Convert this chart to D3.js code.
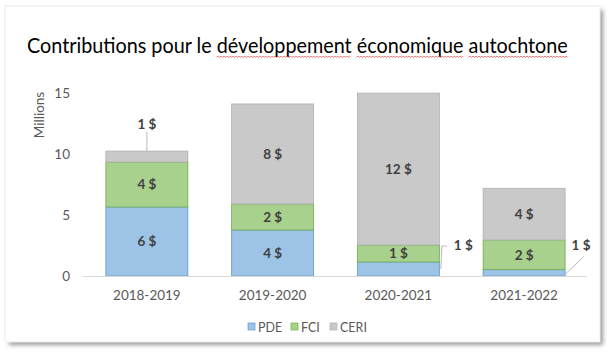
<!DOCTYPE html>
<html><head><meta charset="utf-8">
<script src="https://cdn.jsdelivr.net/npm/d3@7"></script>
<style>html,body{margin:0;padding:0;background:#fff;}svg{display:block;}</style>
</head><body>
<svg id="chart" width="608" height="352"></svg>
<script>
const categories = ["2018-2019", "2019-2020", "2020-2021", "2021-2022"];
const seriesNames = ["PDE", "FCI", "CERI"];
const PDE  = [5.66, 3.77, 1.15, 0.52];
const FCI  = [3.68, 2.13, 1.39, 2.43];
const CERI = [0.90, 8.20, 12.45, 4.24];
const yTicks = [0, 5, 10, 15];
const title = "Contributions pour le développement économique autochtone";
const yTitle = "Millions";
const fills = ["#9DC3E6", "#A9D18E", "#C9C9C9"];
const strokes = ["#5B9BD5", "#70AD47", "#B0B0B0"];
// which labels are outside with a leader: [seriesIndex, catIndex, type]
const outside = [[2,0,"top"],[0,2,"right"],[0,3,"diag"]];

const svg = d3.select("#chart");
const font = "Lato, 'Open Sans', sans-serif";

// card with shadow
const defs = svg.append("defs");
const f = defs.append("filter").attr("id","sh").attr("x","-5%").attr("y","-5%").attr("width","115%").attr("height","115%");
f.append("feGaussianBlur").attr("stdDeviation",2.2);
svg.append("rect").attr("x",9).attr("y",10).attr("width",594).attr("height",335).attr("fill","#9a9a9a").attr("filter","url(#sh)");
svg.append("rect").attr("x",5).attr("y",6).attr("width",595).attr("height",336).attr("fill","#fff").attr("stroke","#ececec");

const x = d3.scaleBand().domain(categories).range([84, 587]).paddingInner(0.34).paddingOuter(0.17);
const y = d3.scaleLinear().domain([0, 15]).range([276, 93]);

const rows = categories.map((c,i)=>({cat:c, PDE:PDE[i], FCI:FCI[i], CERI:CERI[i]}));
const stack = d3.stack().keys(seriesNames)(rows);

// bars
stack.forEach((s,si)=>{
  svg.append("g").selectAll("rect").data(s).join("rect")
    .attr("x", d=>x(d.data.cat)+0.5)
    .attr("y", d=>y(d[1]))
    .attr("width", x.bandwidth()-1)
    .attr("height", d=>y(d[0])-y(d[1]))
    .attr("fill", fills[si])
    .attr("stroke", strokes[si]).attr("stroke-width",0.8);
});

// baseline axis
svg.append("line").attr("x1",83).attr("x2",587).attr("y1",y(0)+0.5).attr("y2",y(0)+0.5).attr("stroke","#d9d9d9").attr("stroke-width",1);

// y axis labels
const yAxis = d3.axisLeft(y).tickValues(yTicks).tickSize(0).tickPadding(0);
const ga = svg.append("g").attr("transform","translate(70,0)").call(yAxis);
ga.select(".domain").remove();
ga.selectAll("text").attr("font-family",font).attr("font-size",13.5).attr("fill","#595959").attr("dy","0.35em");

// x axis labels
const xAxis = d3.axisBottom(x).tickSize(0).tickPadding(0);
const gx = svg.append("g").attr("transform","translate(0,290)").call(xAxis);
gx.select(".domain").remove();
gx.selectAll("text").attr("font-family",font).attr("font-size",13.5).attr("fill","#595959").attr("dy","0.71em");

// y title
svg.append("text").attr("transform","translate(44,115) rotate(-90)").attr("text-anchor","middle")
  .attr("font-family",font).attr("font-size",13.5).attr("fill","#595959").text(yTitle);

// data labels
const lab = svg.append("g").attr("font-family",font).attr("font-size",13.5).attr("font-weight","bold").attr("fill","#404040");
const fmt = v => Math.round(v) + " $";
stack.forEach((s,si)=>{
  s.forEach((d,ci)=>{
    const o = outside.find(o=>o[0]===si && o[1]===ci);
    const cx = x(d.data.cat) + x.bandwidth()/2;
    const v = d[1]-d[0];
    if(!o){
      lab.append("text").attr("x",cx).attr("y",(y(d[0])+y(d[1]))/2).attr("dy","0.36em").attr("text-anchor","middle").text(fmt(v));
    } else if(o[2]==="top"){
      lab.append("text").attr("x",cx).attr("y",y(d[1])-27).attr("dy","0.36em").attr("text-anchor","middle").text(fmt(v));
      svg.append("line").attr("x1",cx).attr("x2",cx).attr("y1",y(d[1])-19).attr("y2",y(d[1])).attr("stroke","#a6a6a6").attr("stroke-width",0.8);
    } else if(o[2]==="right"){
      const xr = x(d.data.cat)+x.bandwidth();
      lab.append("text").attr("x",xr+14).attr("y",y(d[1])-17).attr("dy","0.36em").attr("text-anchor","start").text(fmt(v));
      svg.append("polyline").attr("points",`${xr+1},${(y(d[0])+y(d[1]))/2} ${xr+2},${y(d[1])-16} ${xr+7},${y(d[1])-16}`)
        .attr("fill","none").attr("stroke","#a6a6a6").attr("stroke-width",0.8);
    } else {
      const xr = x(d.data.cat)+x.bandwidth();
      lab.append("text").attr("x",xr+6).attr("y",y(d[1])-25).attr("dy","0.36em").attr("text-anchor","start").text(fmt(v));
      svg.append("line").attr("x1",xr).attr("y1",(y(d[0])+y(d[1]))/2+1).attr("x2",xr+18).attr("y2",y(d[1])-13)
        .attr("stroke","#a6a6a6").attr("stroke-width",0.8);
    }
  });
});

// title, horizontally condensed to the reference width via a transform
const tg = svg.append("g");
const tt = tg.append("text").attr("x",0).attr("y",0).attr("font-family",font).attr("font-size",21.5).attr("fill","#000").text(title);
const w0 = tt.node().getComputedTextLength();
const sx = 541 / w0;
tg.attr("transform",`translate(27,53) scale(${sx},1)`);
// spell-check wavy underline under some words
["développement","économique","autochtone"].forEach(word=>{
  const idx = title.indexOf(word);
  const node = tt.node();
  const start = 27 + sx*node.getStartPositionOfChar(idx).x;
  const end = 27 + sx*node.getEndPositionOfChar(idx+word.length-1).x;
  let p = `M${start},${57}`;
  let up = true;
  for(let xx=start+1.5; xx<=end; xx+=1.5){ p += ` L${xx},${up?56:57.5}`; up=!up; }
  svg.append("path").attr("d",p).attr("fill","none").attr("stroke","#e03a3a").attr("stroke-width",0.7);
});

// legend
const lg = svg.append("g").attr("font-family",font).attr("font-size",12.5).attr("fill","#595959");
const lx = [248, 291, 330];
seriesNames.forEach((n,i)=>{
  lg.append("rect").attr("x",lx[i]).attr("y",323).attr("width",7).attr("height",7).attr("fill",fills[i]).attr("stroke",strokes[i]).attr("stroke-width",0.7);
  lg.append("text").attr("x",lx[i]+10).attr("y",327).attr("dy","0.36em").text(n);
});
</script>
</body></html>
